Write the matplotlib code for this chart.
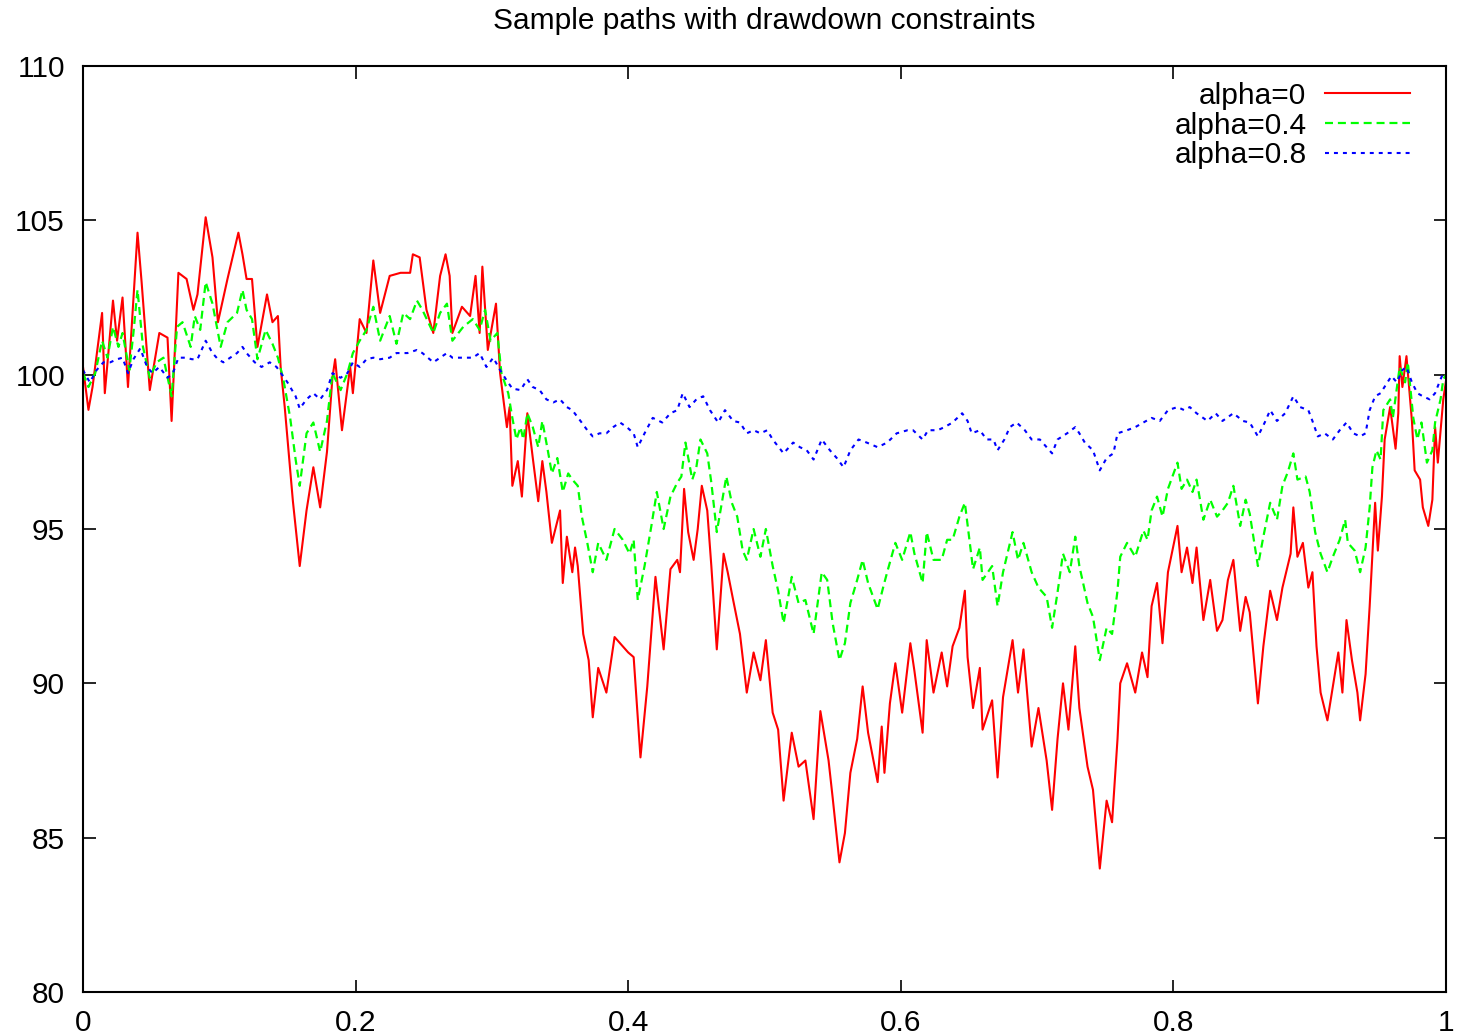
import numpy as np
import matplotlib
matplotlib.use("Agg")
import matplotlib.pyplot as plt

plt.rcParams['font.family'] = ['Liberation Sans', 'DejaVu Sans']

# alpha = 0 path
t_a0 = [0.000, 0.004, 0.007, 0.014, 0.016, 0.022, 0.025, 0.029, 0.033, 0.040,
        0.043, 0.049, 0.056, 0.062, 0.065, 0.070, 0.076, 0.081, 0.084, 0.090,
        0.095, 0.099, 0.106, 0.114, 0.117, 0.120, 0.124, 0.128, 0.135, 0.139,
        0.143, 0.145, 0.148, 0.154, 0.159, 0.164, 0.169, 0.174, 0.179, 0.183,
        0.185, 0.190, 0.196, 0.198, 0.203, 0.208, 0.213, 0.218, 0.225, 0.233,
        0.240, 0.242, 0.247, 0.252, 0.257, 0.262, 0.266, 0.269, 0.271, 0.278,
        0.284, 0.288, 0.291, 0.293, 0.297, 0.303, 0.306, 0.311, 0.313, 0.315,
        0.319, 0.322, 0.326, 0.330, 0.334, 0.337, 0.340, 0.344, 0.346, 0.350,
        0.352, 0.355, 0.359, 0.361, 0.363, 0.367, 0.371, 0.374, 0.378, 0.384,
        0.390, 0.396, 0.400, 0.404, 0.409, 0.414, 0.420, 0.426, 0.431, 0.436,
        0.438, 0.441, 0.444, 0.448, 0.451, 0.454, 0.458, 0.461, 0.465, 0.470,
        0.473, 0.477, 0.482, 0.487, 0.492, 0.497, 0.501, 0.506, 0.510, 0.514,
        0.520, 0.525, 0.530, 0.536, 0.541, 0.547, 0.550, 0.555, 0.559, 0.563,
        0.568, 0.572, 0.576, 0.583, 0.586, 0.588, 0.592, 0.596, 0.601, 0.607,
        0.610, 0.616, 0.619, 0.624, 0.630, 0.634, 0.638, 0.643, 0.647, 0.649,
        0.653, 0.658, 0.660, 0.667, 0.671, 0.675, 0.682, 0.686, 0.690, 0.696,
        0.701, 0.707, 0.711, 0.715, 0.719, 0.723, 0.728, 0.731, 0.737, 0.741,
        0.746, 0.751, 0.755, 0.759, 0.761, 0.766, 0.772, 0.777, 0.781, 0.784,
        0.788, 0.792, 0.796, 0.803, 0.806, 0.810, 0.814, 0.817, 0.822, 0.827,
        0.832, 0.836, 0.840, 0.844, 0.849, 0.853, 0.856, 0.862, 0.866, 0.871,
        0.876, 0.880, 0.886, 0.888, 0.891, 0.895, 0.899, 0.902, 0.905, 0.908,
        0.913, 0.917, 0.921, 0.924, 0.927, 0.931, 0.935, 0.937, 0.941, 0.944,
        0.948, 0.950, 0.953, 0.955, 0.959, 0.963, 0.965, 0.966, 0.968, 0.971,
        0.975, 0.977, 0.981, 0.983, 0.987, 0.990, 0.992, 0.994, 0.998, 1.000]
y_a0 = [100.25, 98.86, 99.6, 102.0, 99.4, 102.4, 101.1, 102.5, 99.6, 104.6,
        103.0, 99.5, 101.35, 101.2, 98.5, 103.3, 103.1, 102.1, 102.6, 105.1,
        103.8, 101.7, 103.1, 104.6, 103.9, 103.1, 103.1, 100.9, 102.6, 101.7,
        101.9, 100.25, 98.95, 95.9, 93.8, 95.6, 97.0, 95.7, 97.5, 99.9,
        100.5, 98.2, 100.25, 99.4, 101.8, 101.35, 103.7, 102.0, 103.2, 103.3,
        103.3, 103.9, 103.8, 102.1, 101.35, 103.2, 103.9, 103.2, 101.35, 102.2,
        101.9, 103.2, 101.35, 103.5, 100.8, 102.3, 100.05, 98.3, 98.95, 96.4,
        97.2, 96.05, 98.75, 97.3, 95.9, 97.2, 96.2, 94.55, 94.9, 95.6,
        93.25, 94.75, 93.6, 94.4, 93.8, 91.6, 90.75, 88.9, 90.5, 89.7,
        91.5, 91.2, 91.0, 90.85, 87.6, 89.9, 93.45, 91.1, 93.7, 94.0,
        93.6, 96.3, 94.9, 94.0, 95.0, 96.4, 95.6, 93.8, 91.1, 94.2,
        93.6, 92.7, 91.6, 89.7, 91.0, 90.1, 91.4, 89.05, 88.5, 86.2,
        88.4, 87.3, 87.5, 85.6, 89.1, 87.5, 86.3, 84.2, 85.15, 87.1,
        88.2, 89.9, 88.4, 86.8, 88.6, 87.1, 89.35, 90.65, 89.05, 91.3,
        90.4, 88.4, 91.4, 89.7, 91.0, 89.9, 91.2, 91.8, 93.0, 90.85,
        89.2, 90.5, 88.5, 89.45, 86.95, 89.55, 91.4, 89.7, 91.1, 87.95,
        89.2, 87.5, 85.9, 88.2, 90.0, 88.5, 91.2, 89.2, 87.3, 86.55,
        84.0, 86.2, 85.5, 88.2, 90.0, 90.65, 89.7, 91.0, 90.2, 92.5,
        93.25, 91.3, 93.6, 95.1, 93.6, 94.4, 93.25, 94.4, 92.05, 93.35,
        91.7, 92.05, 93.35, 94.0, 91.7, 92.8, 92.3, 89.35, 91.2, 93.0,
        92.05, 93.1, 94.2, 95.7, 94.1, 94.55, 93.1, 93.6, 91.2, 89.7,
        88.8, 89.9, 91.0, 89.7, 92.05, 90.75, 89.7, 88.8, 90.3, 92.5,
        95.85, 94.3, 96.05, 97.9, 98.95, 97.6, 98.75, 100.6, 99.6, 100.6,
        98.5, 96.9, 96.6, 95.7, 95.1, 95.95, 98.3, 97.15, 99.2, 99.8]

# alpha = 0.4 path
t_a4 = [0.000, 0.004, 0.009, 0.014, 0.018, 0.022, 0.026, 0.029, 0.034, 0.037,
        0.040, 0.044, 0.049, 0.054, 0.059, 0.065, 0.069, 0.073, 0.079, 0.082,
        0.086, 0.090, 0.095, 0.101, 0.106, 0.113, 0.117, 0.120, 0.124, 0.128,
        0.134, 0.139, 0.143, 0.147, 0.152, 0.156, 0.159, 0.164, 0.169, 0.174,
        0.179, 0.183, 0.189, 0.194, 0.198, 0.203, 0.208, 0.213, 0.218, 0.225,
        0.230, 0.235, 0.240, 0.245, 0.249, 0.257, 0.262, 0.267, 0.271, 0.279,
        0.286, 0.291, 0.295, 0.299, 0.304, 0.307, 0.312, 0.315, 0.318, 0.321,
        0.323, 0.326, 0.330, 0.334, 0.337, 0.341, 0.344, 0.348, 0.352, 0.356,
        0.359, 0.363, 0.366, 0.370, 0.374, 0.378, 0.384, 0.390, 0.396, 0.401,
        0.404, 0.407, 0.412, 0.417, 0.421, 0.426, 0.431, 0.436, 0.439, 0.442,
        0.447, 0.450, 0.453, 0.458, 0.461, 0.465, 0.470, 0.472, 0.476, 0.480,
        0.484, 0.487, 0.492, 0.497, 0.501, 0.506, 0.510, 0.514, 0.520, 0.525,
        0.530, 0.536, 0.542, 0.546, 0.550, 0.555, 0.559, 0.563, 0.568, 0.572,
        0.576, 0.583, 0.587, 0.590, 0.596, 0.601, 0.607, 0.610, 0.616, 0.619,
        0.624, 0.630, 0.634, 0.638, 0.643, 0.647, 0.651, 0.653, 0.658, 0.660,
        0.667, 0.671, 0.675, 0.682, 0.686, 0.690, 0.696, 0.701, 0.707, 0.711,
        0.715, 0.719, 0.724, 0.728, 0.731, 0.737, 0.741, 0.746, 0.751, 0.755,
        0.759, 0.761, 0.766, 0.772, 0.778, 0.781, 0.784, 0.788, 0.792, 0.796,
        0.803, 0.806, 0.810, 0.814, 0.817, 0.822, 0.827, 0.832, 0.836, 0.840,
        0.844, 0.849, 0.853, 0.856, 0.862, 0.866, 0.871, 0.876, 0.880, 0.884,
        0.888, 0.891, 0.897, 0.900, 0.904, 0.908, 0.913, 0.917, 0.922, 0.926,
        0.928, 0.933, 0.937, 0.941, 0.944, 0.946, 0.949, 0.952, 0.954, 0.959,
        0.961, 0.966, 0.970, 0.972, 0.976, 0.979, 0.982, 0.986, 0.990, 0.992,
        0.996, 0.998, 1.000]
y_a4 = [100.05, 99.6, 100.05, 101.1, 100.55, 101.55, 100.9, 101.35, 100.15, 101.35,
        102.75, 100.9, 99.9, 100.4, 100.55, 99.3, 101.55, 101.7, 100.9, 101.9,
        101.45, 103.0, 102.3, 100.9, 101.7, 102.0, 102.75, 102.1, 101.8, 100.5,
        101.45, 101.0, 100.55, 99.85, 98.6, 97.25, 96.4, 98.1, 98.45, 97.5,
        98.5, 100.05, 99.5, 100.05, 100.7, 101.1, 101.45, 102.2, 101.1, 101.9,
        101.0, 102.0, 101.8, 102.4, 102.1, 101.35, 102.0, 102.3, 101.1, 101.55,
        101.8, 101.45, 102.1, 101.1, 101.35, 100.05, 99.4, 98.6, 97.9, 98.3,
        97.9, 98.75, 98.3, 97.65, 98.5, 97.55, 96.8, 97.3, 96.2, 96.8,
        96.6, 96.4, 95.4, 94.55, 93.6, 94.55, 94.0, 95.0, 94.65, 94.2,
        94.65, 92.7, 93.8, 95.1, 96.2, 95.0, 96.05, 96.5, 96.7, 97.8,
        96.6, 97.0, 97.9, 97.45, 96.5, 94.9, 96.2, 96.7, 95.85, 95.4,
        94.3, 94.0, 95.0, 94.1, 95.0, 93.8, 93.0, 91.95, 93.45, 92.6,
        92.7, 91.6, 93.6, 93.35, 91.95, 90.75, 91.3, 92.6, 93.35, 94.0,
        93.25, 92.4, 93.1, 93.6, 94.55, 94.0, 94.9, 94.2, 93.25, 94.9,
        94.0, 94.0, 94.65, 94.65, 95.4, 95.85, 94.4, 93.7, 94.4, 93.35,
        93.8, 92.5, 93.6, 94.9, 94.0, 94.55, 93.6, 93.1, 92.8, 91.8,
        92.95, 94.2, 93.6, 94.75, 93.8, 92.6, 92.15, 90.75, 91.8, 91.6,
        93.0, 94.1, 94.55, 94.1, 94.95, 94.65, 95.6, 96.05, 95.4, 96.3,
        97.15, 96.3, 96.6, 96.2, 96.6, 95.3, 95.95, 95.4, 95.6, 95.85,
        96.4, 95.1, 95.95, 95.5, 93.8, 94.75, 95.85, 95.3, 96.4, 96.85,
        97.45, 96.6, 96.7, 96.2, 94.9, 94.2, 93.6, 94.1, 94.65, 95.3,
        94.55, 94.3, 93.6, 94.4, 95.7, 97.0, 97.55, 97.25, 98.85, 99.2,
        98.6, 100.25, 99.75, 100.4, 98.6, 97.9, 98.45, 97.15, 97.55, 98.45,
        99.2, 99.85, 100.0]

# alpha = 0.8 path
t_a8 = [0.000, 0.005, 0.010, 0.015, 0.020, 0.025, 0.029, 0.033, 0.037, 0.042,
        0.047, 0.051, 0.056, 0.062, 0.066, 0.070, 0.075, 0.080, 0.084, 0.090,
        0.095, 0.099, 0.103, 0.108, 0.113, 0.117, 0.120, 0.126, 0.131, 0.137,
        0.142, 0.146, 0.150, 0.156, 0.159, 0.164, 0.169, 0.174, 0.179, 0.183,
        0.189, 0.194, 0.198, 0.203, 0.208, 0.213, 0.218, 0.225, 0.230, 0.238,
        0.245, 0.249, 0.257, 0.262, 0.267, 0.271, 0.279, 0.286, 0.291, 0.296,
        0.301, 0.306, 0.311, 0.315, 0.321, 0.326, 0.330, 0.335, 0.340, 0.345,
        0.350, 0.355, 0.359, 0.365, 0.370, 0.374, 0.379, 0.384, 0.389, 0.394,
        0.399, 0.404, 0.407, 0.412, 0.418, 0.425, 0.431, 0.436, 0.440, 0.445,
        0.450, 0.455, 0.460, 0.466, 0.471, 0.477, 0.482, 0.487, 0.492, 0.497,
        0.502, 0.506, 0.514, 0.521, 0.526, 0.531, 0.536, 0.542, 0.548, 0.553,
        0.558, 0.563, 0.569, 0.575, 0.583, 0.590, 0.597, 0.605, 0.609, 0.616,
        0.620, 0.627, 0.632, 0.638, 0.645, 0.649, 0.652, 0.658, 0.663, 0.668,
        0.671, 0.676, 0.680, 0.685, 0.691, 0.696, 0.702, 0.707, 0.711, 0.715,
        0.722, 0.728, 0.731, 0.735, 0.741, 0.746, 0.751, 0.756, 0.759, 0.766,
        0.772, 0.778, 0.784, 0.790, 0.796, 0.803, 0.808, 0.812, 0.817, 0.825,
        0.831, 0.836, 0.844, 0.851, 0.856, 0.862, 0.867, 0.871, 0.876, 0.882,
        0.888, 0.893, 0.899, 0.902, 0.906, 0.911, 0.917, 0.922, 0.927, 0.932,
        0.937, 0.941, 0.944, 0.948, 0.952, 0.957, 0.960, 0.964, 0.968, 0.971,
        0.975, 0.979, 0.983, 0.988, 0.992, 0.996, 0.998, 1.000]
y_a8 = [100.15, 99.75, 100.15, 100.4, 100.4, 100.5, 100.55, 100.05, 100.5, 100.85,
        100.25, 100.05, 100.25, 99.9, 100.05, 100.55, 100.55, 100.5, 100.5, 101.1,
        100.7, 100.5, 100.4, 100.55, 100.7, 100.9, 100.7, 100.4, 100.25, 100.4,
        100.25, 100.0, 99.75, 99.3, 98.9, 99.2, 99.4, 99.2, 99.5, 100.05,
        99.9, 100.05, 100.4, 100.25, 100.5, 100.55, 100.5, 100.55, 100.7, 100.7,
        100.8, 100.7, 100.4, 100.55, 100.7, 100.55, 100.55, 100.55, 100.7, 100.25,
        100.55, 100.15, 99.8, 99.55, 99.5, 99.85, 99.6, 99.5, 99.2, 99.1,
        99.2, 98.95, 98.85, 98.5, 98.2, 98.0, 98.1, 98.1, 98.3, 98.45,
        98.3, 98.1, 97.65, 98.1, 98.6, 98.45, 98.75, 98.85, 99.4, 98.95,
        99.2, 99.3, 98.85, 98.45, 98.85, 98.5, 98.45, 98.1, 98.2, 98.1,
        98.2, 97.9, 97.45, 97.8, 97.65, 97.55, 97.25, 97.9, 97.55, 97.3,
        97.0, 97.55, 97.9, 97.8, 97.65, 97.8, 98.1, 98.2, 98.2, 97.9,
        98.2, 98.2, 98.3, 98.45, 98.75, 98.5, 98.1, 98.2, 97.9, 97.9,
        97.55, 97.9, 98.3, 98.45, 98.2, 97.9, 97.9, 97.65, 97.45, 97.9,
        98.1, 98.3, 98.1, 97.8, 97.55, 96.9, 97.3, 97.45, 98.1, 98.2,
        98.3, 98.45, 98.6, 98.5, 98.85, 98.95, 98.85, 98.95, 98.75, 98.5,
        98.75, 98.5, 98.75, 98.5, 98.45, 98.0, 98.45, 98.85, 98.5, 98.75,
        99.3, 98.95, 98.85, 98.5, 98.0, 98.1, 97.9, 98.2, 98.45, 98.1,
        98.0, 98.1, 98.85, 99.3, 99.4, 99.75, 99.95, 99.75, 100.15, 100.25,
        99.75, 99.4, 99.3, 99.2, 99.4, 99.85, 100.05, 100.0]

labels = ['alpha=0', 'alpha=0.4', 'alpha=0.8']
x_ticks = [0, 0.2, 0.4, 0.6, 0.8, 1]
x_tick_labels = ['0', '0.2', '0.4', '0.6', '0.8', '1']
y_ticks = [80, 85, 90, 95, 100, 105, 110]

fs = 21.5

fig = plt.figure(figsize=(14.58, 10.36), dpi=100)
ax = fig.add_axes([83 / 1458, 1 - 992 / 1036, 1363 / 1458, 926 / 1036])

ax.plot(t_a0, y_a0, color='#ff0000', lw=1.5, label=labels[0])
ax.plot(t_a4, y_a4, color='#00ff00', lw=1.6, dashes=(3.6, 2.2), label=labels[1])
ax.plot(t_a8, y_a8, color='#0000ff', lw=1.5, dashes=(1.9, 2.4), label=labels[2])

ax.set_xlim(0, 1)
ax.set_ylim(80, 110)
ax.set_xticks(x_ticks)
ax.set_xticklabels(x_tick_labels)
ax.set_yticks(y_ticks)
ax.tick_params(direction='in', length=9, width=1.2, top=True, right=True,
               labelsize=fs)
ax.tick_params(axis='x', pad=12.5)
ax.tick_params(axis='y', pad=13)
for s in ax.spines.values():
    s.set_linewidth(1.5)

fig.text(764.5 / 1458, 1 - 21 / 1036, 'Sample paths with drawdown constraints',
         ha='center', va='center', fontsize=fs)

ax.legend(loc='upper right', bbox_to_anchor=(0.9736, 0.983), frameon=False,
          markerfirst=False, fontsize=fs, handlelength=2.85, handletextpad=0.62,
          labelspacing=0.06, borderpad=0, borderaxespad=0)

fig.savefig('out.png', dpi=100)
